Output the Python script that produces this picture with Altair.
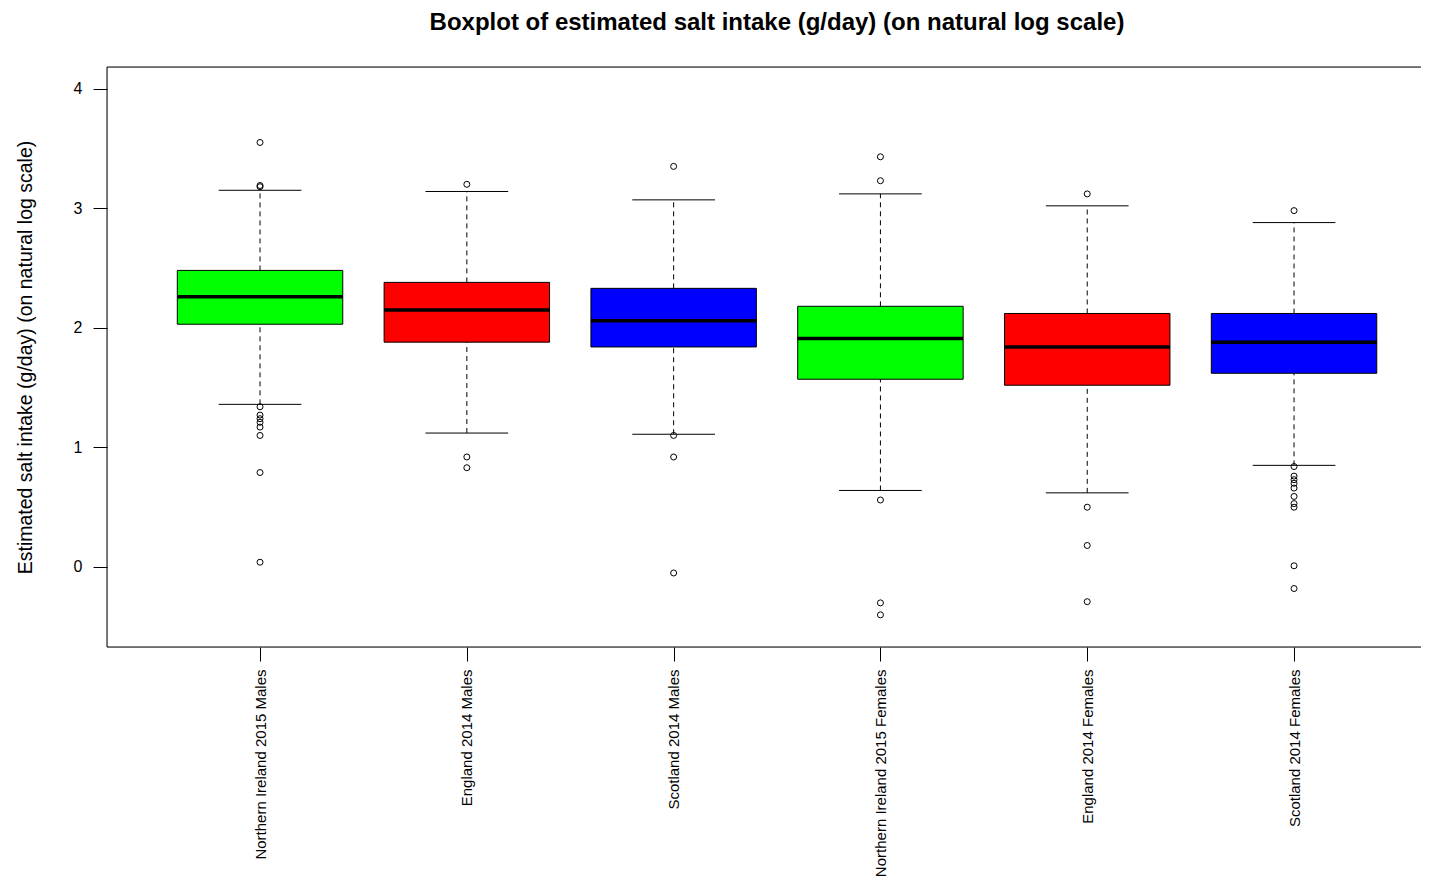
import json
import altair as alt
import pandas as pd

# ---------------- data ----------------
groups = ["Northern Ireland 2015 Males", "England 2014 Males", "Scotland 2014 Males",
          "Northern Ireland 2015 Females", "England 2014 Females", "Scotland 2014 Females"]
box_colors = ["#00ff00", "#ff0000", "#0000ff", "#00ff00", "#ff0000", "#0000ff"]
lower_whisker = [1.36, 1.12, 1.11, 0.64, 0.62, 0.85]
q1 = [2.03, 1.88, 1.84, 1.57, 1.52, 1.62]
median = [2.26, 2.15, 2.06, 1.91, 1.84, 1.88]
q3 = [2.48, 2.38, 2.33, 2.18, 2.12, 2.12]
upper_whisker = [3.15, 3.14, 3.07, 3.12, 3.02, 2.88]
outliers = [
    [3.55, 3.19, 3.18, 1.34, 1.27, 1.24, 1.21, 1.17, 1.10, 0.79, 0.04],
    [3.20, 0.92, 0.83],
    [3.35, 1.10, 0.92, -0.05],
    [3.43, 3.23, 0.56, -0.30, -0.40],
    [3.12, 0.50, 0.18, -0.29],
    [2.98, 0.84, 0.76, 0.73, 0.70, 0.66, 0.59, 0.53, 0.50, 0.01, -0.18],
]
y_ticks = [0, 1, 2, 3, 4]

title_text = "Boxplot of estimated salt intake (g/day) (on natural log scale)"
y_title = "Estimated salt intake (g/day) (on natural log scale)"

# ---------------- tables ----------------
positions = list(range(1, len(groups) + 1))
boxes = pd.DataFrame({
    "pos": positions, "group": groups, "color": box_colors,
    "lo": lower_whisker, "q1": q1, "med": median, "q3": q3, "hi": upper_whisker,
})
out_rows = [{"pos": p, "value": v} for p, vals in zip(positions, outliers) for v in vals]
outs = pd.DataFrame(out_rows)

W, H = 1314, 580
FONT = "Liberation Sans"
xscale = alt.Scale(domain=[0.26, 0.26 + W / 206.8], nice=False, zero=False)
yscale = alt.Scale(domain=[-0.669, 4.181], nice=False, zero=False)

label_expr = json.dumps(groups) + "[datum.value - 1]"

x_axis = alt.Axis(
    values=positions, labelExpr=label_expr, title=None,
    labelAngle=270, labelAlign="right", labelBaseline="middle",
    labelFont=FONT, labelFontSize=15, labelColor="black", labelLimit=0,
    labelPadding=8, tickSize=14, tickColor="black", domain=False,
    grid=False, labelOverlap=False, labelBound=False, labelFlush=False,
)
y_axis = alt.Axis(
    values=y_ticks, format="d", title=y_title,
    labelFont=FONT, labelFontSize=16, labelColor="black", labelPadding=11,
    tickSize=14, tickColor="black", domain=False, grid=False,
    titleFont=FONT, titleFontSize=19.5, titleFontWeight="normal", titleColor="black",
    titleX=-82, titleY=H / 2, titleAngle=270, titleAlign="center",
    titleBaseline="middle", labelFlush=False, titleLimit=0,
)


def X(field):
    return alt.X(field, scale=xscale, axis=x_axis, title=None)


def Y(field):
    return alt.Y(field, scale=yscale, axis=y_axis, title=y_title)


base = alt.Chart(boxes).transform_calculate(
    bl="datum.pos - 0.4", br="datum.pos + 0.4",
    cl="datum.pos - 0.2", cr="datum.pos + 0.2",
)

whisk_up = base.mark_rule(color="black", strokeWidth=1, strokeDash=[5, 4]).encode(
    x=X("pos:Q"), y=Y("q3:Q"), y2="hi:Q")
whisk_lo = base.mark_rule(color="black", strokeWidth=1, strokeDash=[5, 4]).encode(
    x=X("pos:Q"), y=Y("lo:Q"), y2="q1:Q")
cap_hi = base.mark_rule(color="black", strokeWidth=1).encode(
    x=X("cl:Q"), x2="cr:Q", y=Y("hi:Q"))
cap_lo = base.mark_rule(color="black", strokeWidth=1).encode(
    x=X("cl:Q"), x2="cr:Q", y=Y("lo:Q"))
box = base.mark_rect(stroke="black", strokeWidth=1).encode(
    x=X("bl:Q"), x2="br:Q", y=Y("q1:Q"), y2="q3:Q",
    color=alt.Color("color:N", scale=None),
)
med = base.mark_rule(color="black", strokeWidth=3.5).encode(
    x=X("bl:Q"), x2="br:Q", y=Y("med:Q"))
pts = alt.Chart(outs).mark_point(shape="circle", filled=False, color="black",
                                  size=36, strokeWidth=1, opacity=1).encode(
    x=X("pos:Q"), y=Y("value:Q"))

# plot frame (open on the right, as in the cropped reference)
frame_df = pd.DataFrame({"k": [0]})
frame_top = alt.Chart(frame_df).mark_rule(color="black", strokeWidth=1).encode(
    x=alt.value(0), x2=alt.value(W), y=alt.value(0))
frame_bot = alt.Chart(frame_df).mark_rule(color="black", strokeWidth=1).encode(
    x=alt.value(0), x2=alt.value(W), y=alt.value(H))
frame_left = alt.Chart(frame_df).mark_rule(color="black", strokeWidth=1).encode(
    x=alt.value(0), y=alt.value(0), y2=alt.value(H))

chart = alt.layer(
    box, whisk_up, whisk_lo, cap_hi, cap_lo, med, pts,
    frame_top, frame_bot, frame_left,
).properties(
    width=W, height=H,
    autosize=alt.AutoSizeParams(type="none"),
    padding={"left": 99, "top": 59, "right": 0, "bottom": 231},
    title=alt.TitleParams(
        text=title_text, font=FONT, fontSize=24, fontWeight="bold", color="black",
        anchor="middle", frame="group", dx=13, offset=32,
    ),
).configure_view(stroke=None).configure(background="white")

chart.save("out.html", embed_options={"renderer": "svg", "actions": False})
